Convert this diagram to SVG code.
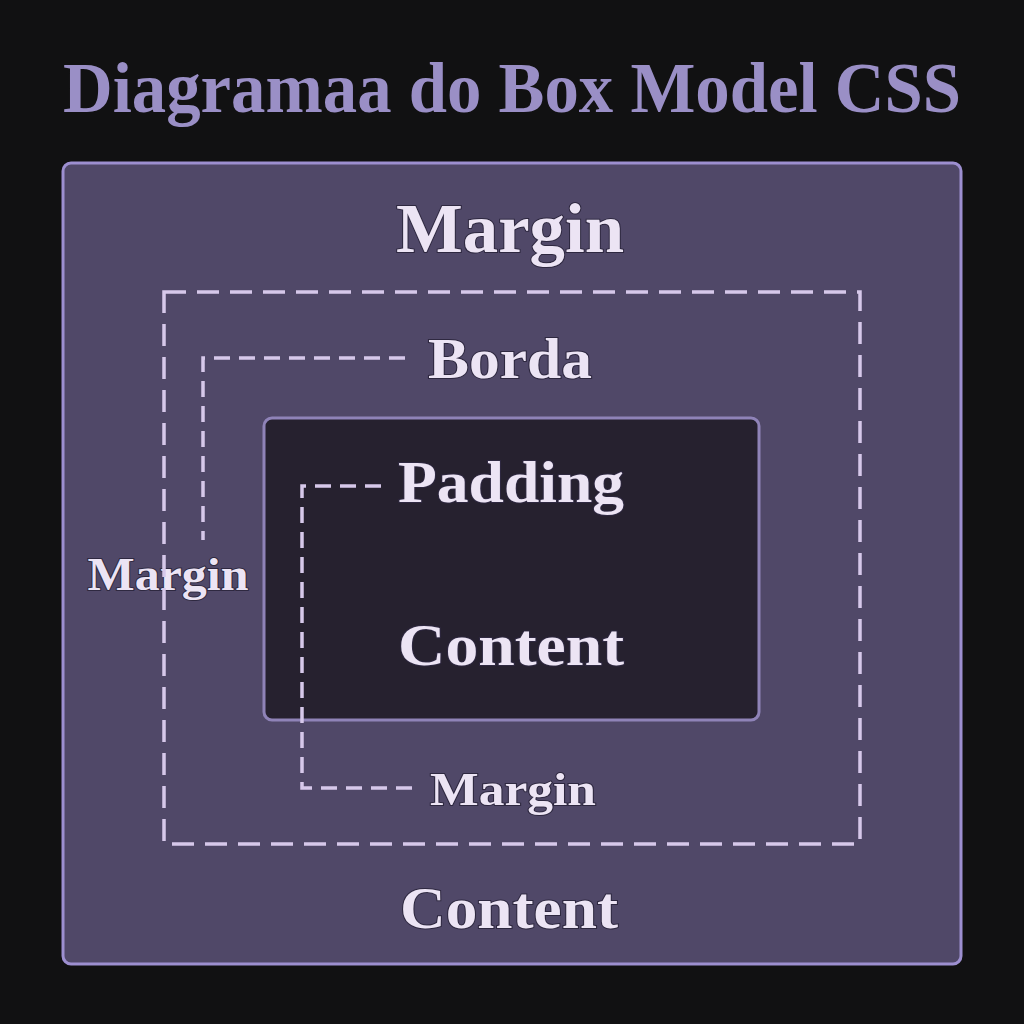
<svg xmlns="http://www.w3.org/2000/svg" width="1024" height="1024" viewBox="0 0 1024 1024">
<style>
.lbl{font-family:"Liberation Serif","DejaVu Serif",serif;font-weight:bold;fill:#ece4f4;stroke:#2e2840;stroke-width:2;paint-order:stroke;}
.title{font-family:"Liberation Serif","DejaVu Serif",serif;font-weight:bold;fill:#9a8fc6;}
.dash{fill:none;stroke:#d6c8ea;stroke-width:3.5;stroke-dasharray:22 11;}
.dash2{fill:none;stroke:#d6c8ea;stroke-width:3.5;stroke-dasharray:16 9;}
</style>
<rect width="1024" height="1024" fill="#111112"/>
<text class="title" x="512" y="112" font-size="72" text-anchor="middle" textLength="898" lengthAdjust="spacingAndGlyphs">Diagramaa do Box Model CSS</text>
<g id="margin-box">
<rect x="63" y="163" width="898" height="801" rx="8" fill="#504868" stroke="#9d8fd0" stroke-width="3"/>
<text class="lbl" x="510" y="252" font-size="70" text-anchor="middle" textLength="228" lengthAdjust="spacingAndGlyphs">Margin</text>
<text class="lbl" x="509" y="928" font-size="60" text-anchor="middle" textLength="218" lengthAdjust="spacingAndGlyphs">Content</text>
<text class="lbl" x="168" y="590" font-size="46" text-anchor="middle" textLength="161" lengthAdjust="spacingAndGlyphs">Margin</text>
</g>
<g id="border-box">
<rect class="dash" x="164" y="292" width="696" height="552"/>
<text class="lbl" x="510" y="378" font-size="56" text-anchor="middle" textLength="164" lengthAdjust="spacingAndGlyphs">Borda</text>
</g>
<g id="content-box">
<rect x="264" y="418" width="495" height="302" rx="8" fill="#26212f" stroke="#8f83b8" stroke-width="3"/>
<text class="lbl" x="511" y="502" font-size="60" text-anchor="middle" textLength="226" lengthAdjust="spacingAndGlyphs">Padding</text>
<text class="lbl" x="511" y="665" font-size="60" text-anchor="middle" textLength="226" lengthAdjust="spacingAndGlyphs">Content</text>
</g>
<g id="bottom-margin-label">
<text class="lbl" x="513" y="805" font-size="46" text-anchor="middle" textLength="166" lengthAdjust="spacingAndGlyphs">Margin</text>
</g>
<g id="connectors">
<path class="dash2" d="M405 358 H203 V540"/>
<path class="dash2" d="M381 486 H302 V788 H412"/>
</g>
</svg>
